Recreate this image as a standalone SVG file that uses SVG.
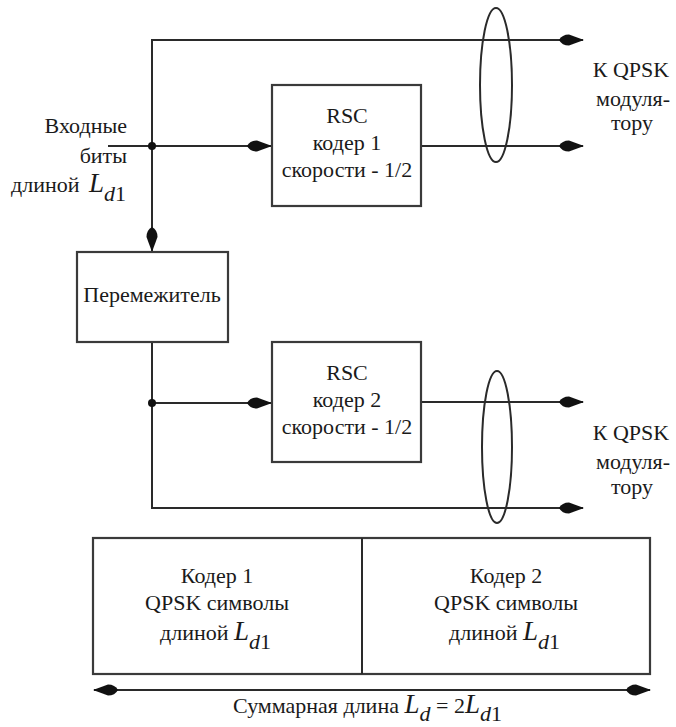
<svg xmlns="http://www.w3.org/2000/svg" width="676" height="727" viewBox="0 0 676 727">
<style>
  .ln { stroke:#2a2a2a; stroke-width:2; fill:none; }
  .bx { stroke:#3a3a3a; stroke-width:2.2; fill:#fff; }
  .el { stroke:#2a2a2a; stroke-width:2; fill:none; }
  text { font-family:"Liberation Serif","DejaVu Serif","Times New Roman",serif; font-size:22px; fill:#1a1a1a; }
  .c { text-anchor:middle; }
  .r { text-anchor:end; }
  .it { font-style:italic; }
  .big { font-size:27px; }
</style>
<defs>
  <marker id="ah" markerUnits="userSpaceOnUse" markerWidth="26" markerHeight="14" viewBox="0 0 25 14" refX="24" refY="7" orient="auto-start-reverse">
    <path d="M0,7 Q3,1.5 10,1.5 L25,7 L10,12.5 Q3,12.5 0,7 Z" fill="#111"/>
  </marker>
</defs>

<g id="connectors">
  <polyline class="ln" points="108,146 152,146"/>
  <polyline class="ln" points="152,146 152,40 583,40" marker-end="url(#ah)"/>
  <line class="ln" x1="152" y1="146" x2="271" y2="146" marker-end="url(#ah)"/>
  <line class="ln" x1="152" y1="146" x2="152" y2="251" marker-end="url(#ah)"/>
  <line class="ln" x1="421" y1="146" x2="583" y2="146" marker-end="url(#ah)"/>
  <polyline class="ln" points="152,342 152,508 583,508" marker-end="url(#ah)"/>
  <line class="ln" x1="152" y1="403" x2="271" y2="403" marker-end="url(#ah)"/>
  <line class="ln" x1="421" y1="402" x2="583" y2="402" marker-end="url(#ah)"/>
  <circle cx="152" cy="146" r="4" fill="#111"/>
  <circle cx="152" cy="403" r="4" fill="#111"/>
  <ellipse class="el" cx="496" cy="85" rx="16" ry="77"/>
  <ellipse class="el" cx="497" cy="447" rx="15" ry="76"/>
  <line class="ln" x1="94" y1="690" x2="650" y2="690" marker-start="url(#ah)" marker-end="url(#ah)"/>
</g>

<g id="input-label">
  <text class="r" x="127" y="133">Входные</text>
  <text class="r" x="127" y="163">биты</text>
  <text x="11" y="192">длиной<tspan x="89" class="it big">L</tspan><tspan class="it" dy="9">d</tspan><tspan>1</tspan></text>
</g>

<g id="rsc1">
  <rect class="bx" x="272" y="85" width="149" height="121"/>
  <text class="c" x="347" y="123">RSC</text>
  <text class="c" x="347" y="150">кодер 1</text>
  <text class="c" x="347" y="177">скорости - 1/2</text>
</g>

<g id="interleaver">
  <rect class="bx" x="77" y="252" width="151" height="90"/>
  <text class="c" x="152" y="302">Перемежитель</text>
</g>

<g id="rsc2">
  <rect class="bx" x="272" y="342" width="149" height="120"/>
  <text class="c" x="347" y="380">RSC</text>
  <text class="c" x="347" y="407">кодер 2</text>
  <text class="c" x="347" y="434">скорости - 1/2</text>
</g>

<g id="out1-label">
  <text class="c" x="631" y="77">К QPSK</text>
  <text class="c" x="633" y="106">модуля-</text>
  <text class="c" x="632" y="130">тору</text>
</g>

<g id="out2-label">
  <text class="c" x="631" y="440">К QPSK</text>
  <text class="c" x="633" y="469">модуля-</text>
  <text class="c" x="632" y="494">тору</text>
</g>

<g id="frame">
  <rect class="bx" x="93" y="538" width="557" height="136"/>
  <line class="ln" x1="362" y1="538" x2="362" y2="674"/>
  <text class="c" x="217" y="583">Кодер 1</text>
  <text class="c" x="217" y="610">QPSK символы</text>
  <text x="160" y="640">длиной <tspan class="it big">L</tspan><tspan class="it" dy="9">d</tspan><tspan>1</tspan></text>
  <text class="c" x="506" y="583">Кодер 2</text>
  <text class="c" x="506" y="610">QPSK символы</text>
  <text x="449" y="640">длиной <tspan class="it big">L</tspan><tspan class="it" dy="9">d</tspan><tspan>1</tspan></text>
</g>

<g id="total-label">
  <text x="233" y="713">Суммарная длина <tspan class="it big">L</tspan><tspan class="it" dy="8">d</tspan><tspan dy="-8"> = 2</tspan><tspan class="it big">L</tspan><tspan class="it" dy="8">d</tspan><tspan>1</tspan></text>
</g>
</svg>
